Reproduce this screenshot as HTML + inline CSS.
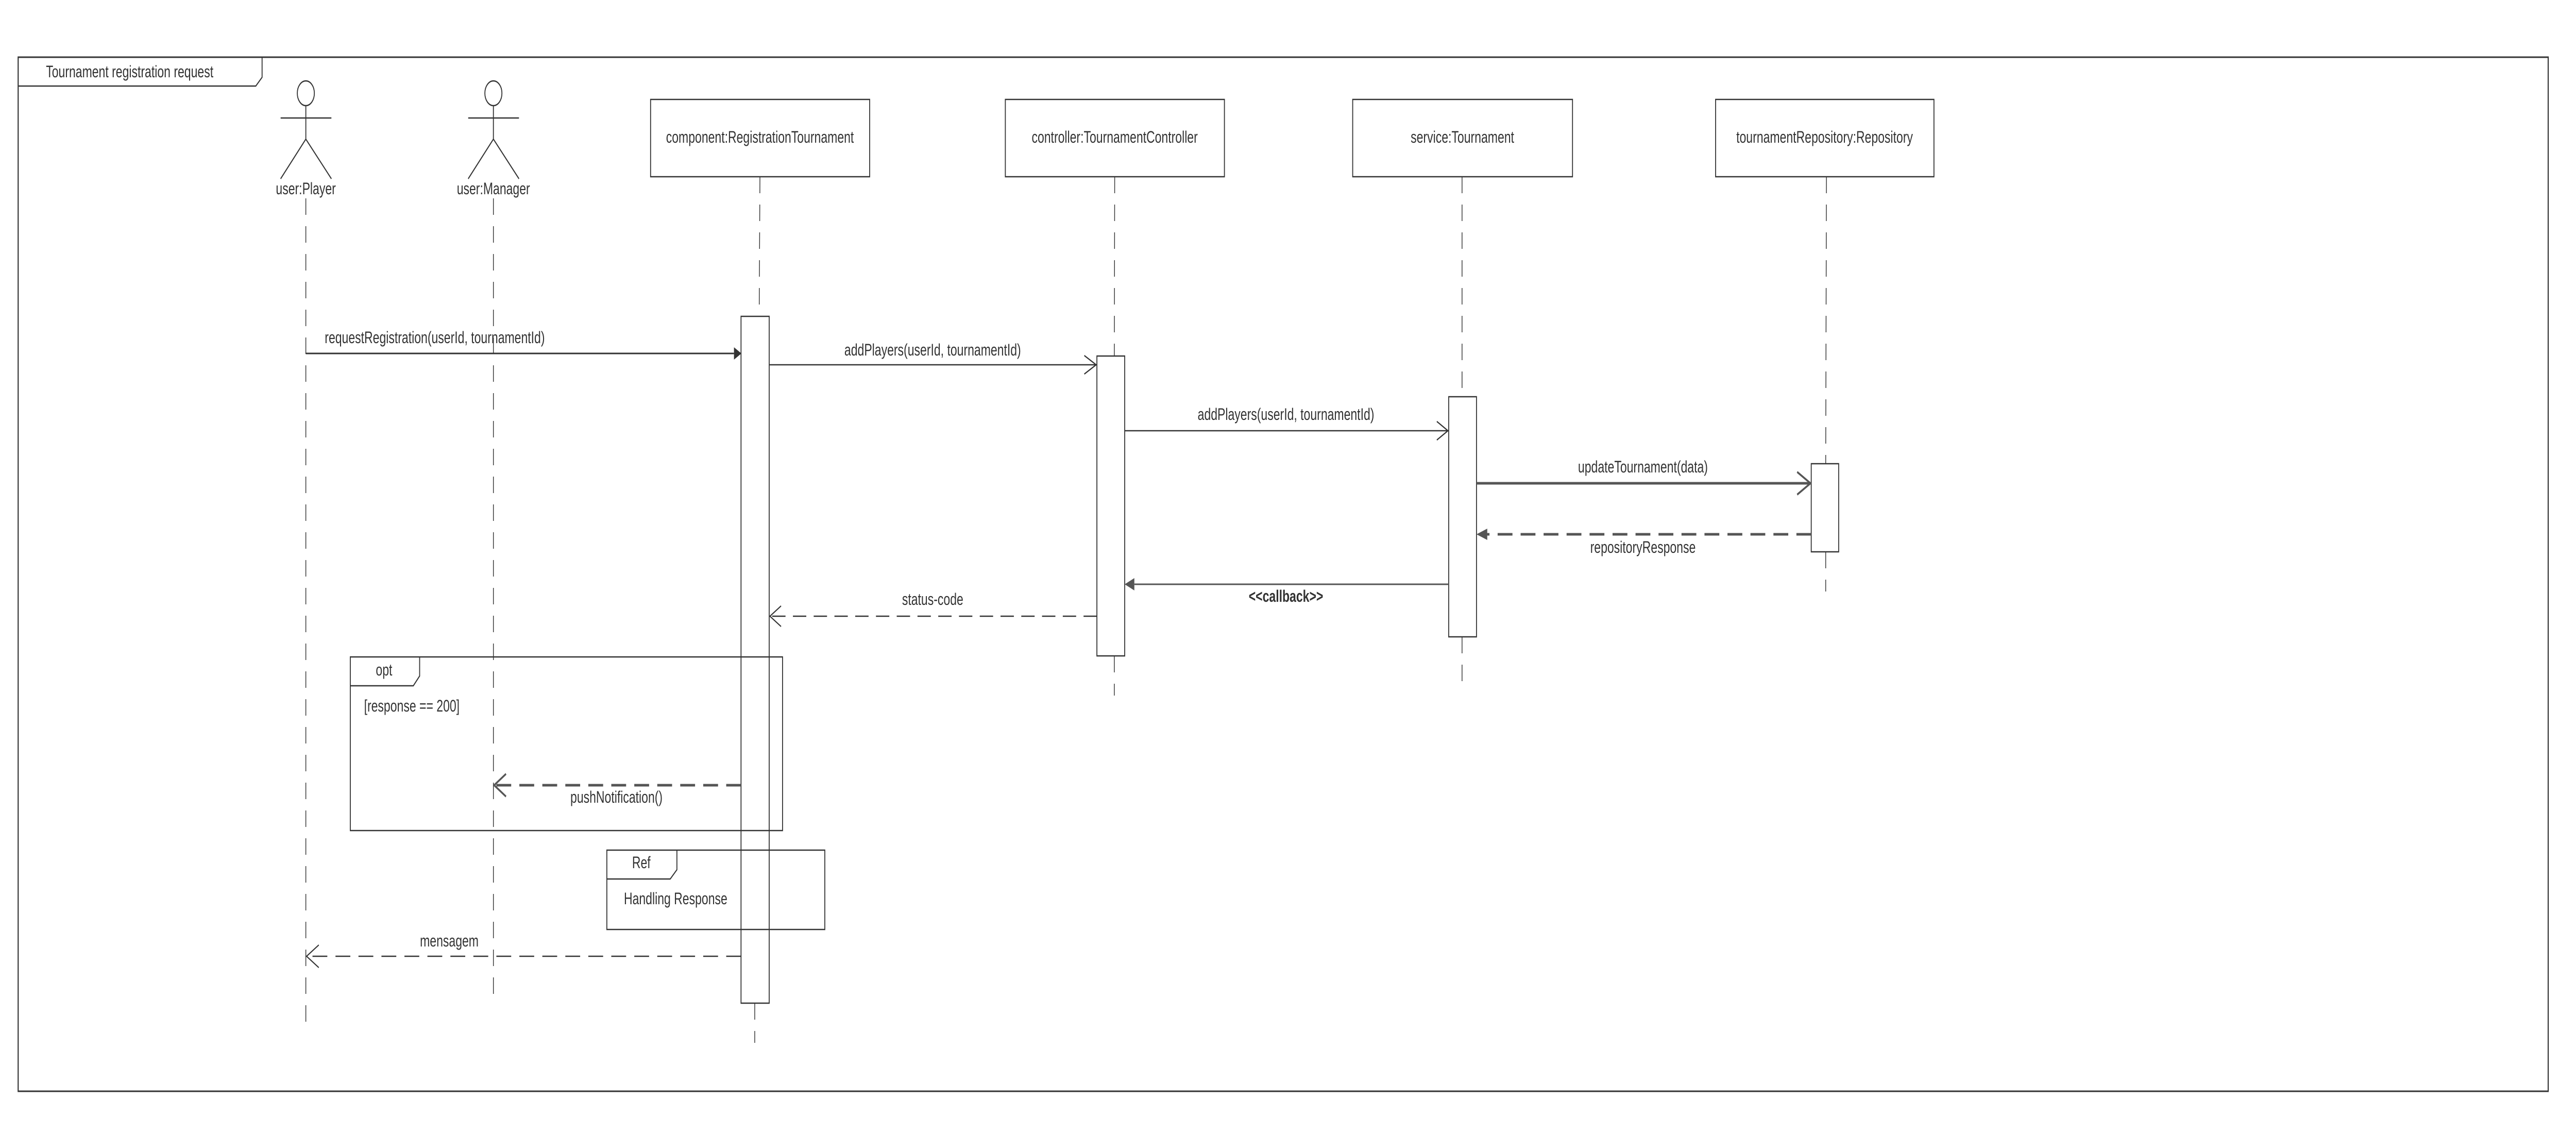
<!DOCTYPE html>
<html><head><meta charset="utf-8"><style>
html,body{margin:0;padding:0;background:#fff;overflow:hidden;width:100%;height:100%}
svg{display:block;width:100vw;height:100vh}
text{font-family:"Liberation Sans",sans-serif;font-size:32px;fill:#333}
</style></head><body>
<svg viewBox="0 0 6949 2199" preserveAspectRatio="none" xmlns="http://www.w3.org/2000/svg">
<g fill="none" stroke="#333" stroke-width="2.5">
<rect x="49" y="111" width="6825" height="2007" stroke-width="3"/>
<path d="M49 167 H690 L707 150 V111"/>
<g>
<ellipse cx="825" cy="181" rx="23" ry="24"/>
<line x1="757" y1="229" x2="894" y2="229"/>
<line x1="825" y1="205" x2="825" y2="270"/>
<path d="M757 347 L825 270 L894 347"/>
<ellipse cx="1331" cy="181" rx="23" ry="24"/>
<line x1="1263" y1="229" x2="1400" y2="229"/>
<line x1="1331" y1="205" x2="1331" y2="270"/>
<path d="M1263 347 L1331 270 L1400 347"/>
</g>
<rect x="1755" y="193" width="591" height="150"/>
<rect x="2712" y="193" width="591" height="150"/>
<rect x="3649" y="193" width="593" height="150"/>
<rect x="4628" y="193" width="589" height="150"/>
<g stroke-dasharray="32,22" stroke-width="2">
<line x1="825" y1="385" x2="825" y2="1985"/>
<line x1="1331" y1="385" x2="1331" y2="1949"/>
<line x1="2050" y1="343" x2="2048" y2="614"/>
<line x1="2036" y1="1947" x2="2036" y2="2024"/>
<line x1="3007" y1="343" x2="3006" y2="691"/>
<line x1="3006" y1="1273" x2="3006" y2="1350"/>
<line x1="3944" y1="343" x2="3944" y2="770"/>
<line x1="3944" y1="1236" x2="3944" y2="1340"/>
<line x1="4927" y1="343" x2="4925" y2="900"/>
<line x1="4925" y1="1071" x2="4925" y2="1148"/>
</g>
<rect x="1999" y="614" width="76" height="1333" fill="#fff"/>
<rect x="2959" y="691" width="75" height="582" fill="#fff"/>
<rect x="3908" y="770" width="75" height="466" fill="#fff"/>
<rect x="4886" y="900" width="74" height="171" fill="#fff"/>
<rect x="945" y="1275" width="1166" height="337"/>
<path d="M945 1331 H1115 L1132 1312 V1275"/>
<rect x="1637" y="1650" width="588" height="154"/>
<path d="M1637 1706 H1808 L1826 1688 V1650"/>
<line x1="825" y1="686" x2="1980" y2="686" stroke-width="3"/>
<line x1="2075" y1="708" x2="2957" y2="708"/>
<path d="M2925 690 L2957 708 L2925 726"/>
<line x1="3034" y1="836" x2="3906" y2="836"/>
<path d="M3876 818 L3906 836 L3876 854"/>
<line x1="3983" y1="938" x2="4884" y2="938" stroke-width="5" stroke="#555"/>
<path d="M4848 916 L4884 938 L4848 960" stroke-width="4" stroke="#555"/>
<line x1="4886" y1="1037" x2="4010" y2="1037" stroke-width="5" stroke="#555" stroke-dasharray="40,22"/>
<line x1="3908" y1="1134" x2="3060" y2="1134" stroke="#555" stroke-width="3"/>
<line x1="2959" y1="1196" x2="2077" y2="1196" stroke-dasharray="36,20"/>
<path d="M2107 1176 L2077 1196 L2107 1216"/>
<line x1="1999" y1="1524" x2="1333" y2="1524" stroke-width="5" stroke="#555" stroke-dasharray="40,22"/>
<path d="M1365 1502 L1333 1524 L1365 1546" stroke-width="4" stroke="#555"/>
<line x1="1999" y1="1856" x2="827" y2="1856" stroke-dasharray="40,22"/>
<path d="M860 1834 L827 1856 L860 1878"/>
</g>
<g fill="#333">
<path d="M1980 674 L2000 686 L1980 698 Z"/>
<path d="M3983 1037 L4012 1026 L4012 1048 Z" fill="#555"/>
<path d="M3034 1134 L3060 1122 L3060 1146 Z" fill="#555"/>
</g>
<text x="124" y="150">Tournament registration request</text>
<text x="825" y="377" text-anchor="middle">user:Player</text>
<text x="1331" y="377" text-anchor="middle">user:Manager</text>
<text x="2050" y="277" text-anchor="middle">component:RegistrationTournament</text>
<text x="3007" y="277" text-anchor="middle">controller:TournamentController</text>
<text x="3945" y="277" text-anchor="middle">service:Tournament</text>
<text x="4922" y="277" text-anchor="middle">tournamentRepository:Repository</text>
<text x="876" y="666">requestRegistration(userId, tournamentId)</text>
<text x="2516" y="690" text-anchor="middle">addPlayers(userId, tournamentId)</text>
<text x="3469" y="815" text-anchor="middle">addPlayers(userId, tournamentId)</text>
<text x="4432" y="917" text-anchor="middle">updateTournament(data)</text>
<text x="4432" y="1073" text-anchor="middle">repositoryResponse</text>
<text x="3469" y="1168" text-anchor="middle" font-weight="bold">&lt;&lt;callback&gt;&gt;</text>
<text x="2516" y="1174" text-anchor="middle">status-code</text>
<text x="1036" y="1311" text-anchor="middle">opt</text>
<text x="982" y="1381">[response == 200]</text>
<text x="1663" y="1558" text-anchor="middle">pushNotification()</text>
<text x="1730" y="1685" text-anchor="middle">Ref</text>
<text x="1683" y="1755">Handling Response</text>
<text x="1212" y="1837" text-anchor="middle">mensagem</text>
</svg>
</body></html>
